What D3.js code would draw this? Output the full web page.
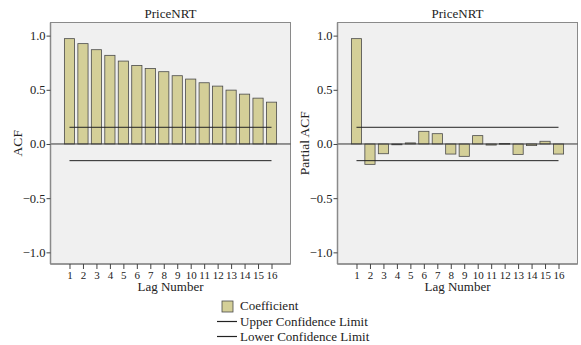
<!DOCTYPE html>
<html><head><meta charset="utf-8">
<script src="https://cdn.jsdelivr.net/npm/d3@7"></script>
<style>body{margin:0;background:#fff}svg{display:block}svg text{font-family:"Times New Roman",Times,"Liberation Serif",Tinos,serif !important;fill:#222}</style>
</head><body><svg id="c" width="581" height="345"></svg>
<script>
const lags = d3.range(1, 17);
const acf = [0.972,0.926,0.870,0.818,0.765,0.725,0.697,0.667,0.630,0.599,0.565,0.534,0.497,0.460,0.423,0.386];
const pacf = [0.972,-0.188,-0.090,-0.004,0.010,0.117,0.095,-0.093,-0.114,0.077,-0.010,0.005,-0.096,-0.015,0.025,-0.093];
const upperLimit = 0.154, lowerLimit = -0.154;
const yTicks = [-1.0,-0.5,0.0,0.5,1.0];
const titles = ["PriceNRT","PriceNRT"];
const yLabels = ["ACF","Partial ACF"];
const xLabel = "Lag Number";
const legendItems = ["Coefficient","Upper Confidence Limit","Lower Confidence Limit"];

const svg = d3.select("#c");
const plotTop = 22.5, plotBottom = 264;
const y = d3.scaleLinear().domain([-1.1075, 1.121]).range([plotBottom, plotTop]);
const panels = [{x0:50.5,x1:290.5,vals:acf},{x0:337.5,x1:577.5,vals:pacf}];
const fill = "#d4cf98";
const FONT = '"Times New Roman", Times, "Liberation Serif", serif';

panels.forEach((p,i)=>{
  const x = d3.scalePoint().domain(lags).range([p.x0,p.x1]).padding(1.41);
  const g = svg.append("g");
  g.append("rect").attr("x",p.x0).attr("y",plotTop).attr("width",p.x1-p.x0).attr("height",plotBottom-plotTop)
    .attr("fill","#f0f0f0").attr("stroke","#8a8a8a").attr("stroke-width",1);
  const bw = 10.2;
  g.selectAll(".bar").data(p.vals).join("rect")
    .attr("x",(d,k)=>x(lags[k])-bw/2)
    .attr("y",d=>y(Math.max(0,d)))
    .attr("width",bw)
    .attr("height",d=>Math.max(0.8,Math.abs(y(d)-y(0))))
    .attr("fill",fill).attr("stroke","#4a4a4a").attr("stroke-width",0.8);
  g.append("line").attr("x1",p.x0).attr("x2",p.x1).attr("y1",y(0)).attr("y2",y(0)).attr("stroke","#333").attr("stroke-width",1);
  [upperLimit,lowerLimit].forEach(v=>{
    g.append("line").attr("x1",x(1)).attr("x2",x(16)).attr("y1",y(v)).attr("y2",y(v)).attr("stroke","#222").attr("stroke-width",1);
  });
  const ya = d3.axisLeft(y).tickValues(yTicks).tickFormat(d3.format(".1f")).tickSize(4).tickPadding(1);
  const yg = g.append("g").attr("transform",`translate(${p.x0},0)`).call(ya).attr("font-family",FONT);
  yg.select(".domain").attr("stroke","#8a8a8a").attr("stroke-width",1.5).attr("d",`M0,${plotTop}V${plotBottom}`);
  yg.selectAll(".tick line").attr("stroke","#444");
  yg.selectAll("text").style("font-size","12.5px").attr("fill","#222");
  const xa = d3.axisBottom(x).tickSize(5).tickPadding(2);
  const xg = g.append("g").attr("transform",`translate(0,${plotBottom})`).call(xa).attr("font-family",FONT);
  xg.select(".domain").attr("stroke","#8a8a8a").attr("stroke-width",1.5).attr("d",`M${p.x0},0H${p.x1}`);
  xg.selectAll(".tick line").attr("stroke","#444");
  xg.selectAll("text").style("font-size","11px").attr("fill","#222");
  const cx = (p.x0+p.x1)/2;
  g.append("text").attr("x",cx).attr("y",18).attr("text-anchor","middle").attr("font-family",FONT).style("font-size","13px").text(titles[i]);
  g.append("text").attr("x",cx).attr("y",291).attr("text-anchor","middle").attr("font-family",FONT).style("font-size","13px").text(xLabel);
  g.append("text").attr("transform",`translate(${p.x0-29},${(plotTop+plotBottom)/2}) rotate(-90)`).attr("text-anchor","middle").attr("font-family",FONT).style("font-size","13.5px").text(yLabels[i]);
});

const lg = svg.append("g").attr("font-family",FONT);
lg.append("rect").attr("x",222).attr("y",301).attr("width",11).attr("height",11).attr("fill",fill).attr("stroke","#4a4a4a").attr("stroke-width",0.8);
lg.append("line").attr("x1",217).attr("x2",237).attr("y1",321.5).attr("y2",321.5).attr("stroke","#222").attr("stroke-width",1.2);
lg.append("line").attr("x1",217).attr("x2",237).attr("y1",336.5).attr("y2",336.5).attr("stroke","#222").attr("stroke-width",1.2);
lg.selectAll(".lt").data(legendItems).join("text").attr("x",240).attr("y",(d,k)=>310+k*15.5).style("font-size","13px").text(d=>d);
</script></body></html>
